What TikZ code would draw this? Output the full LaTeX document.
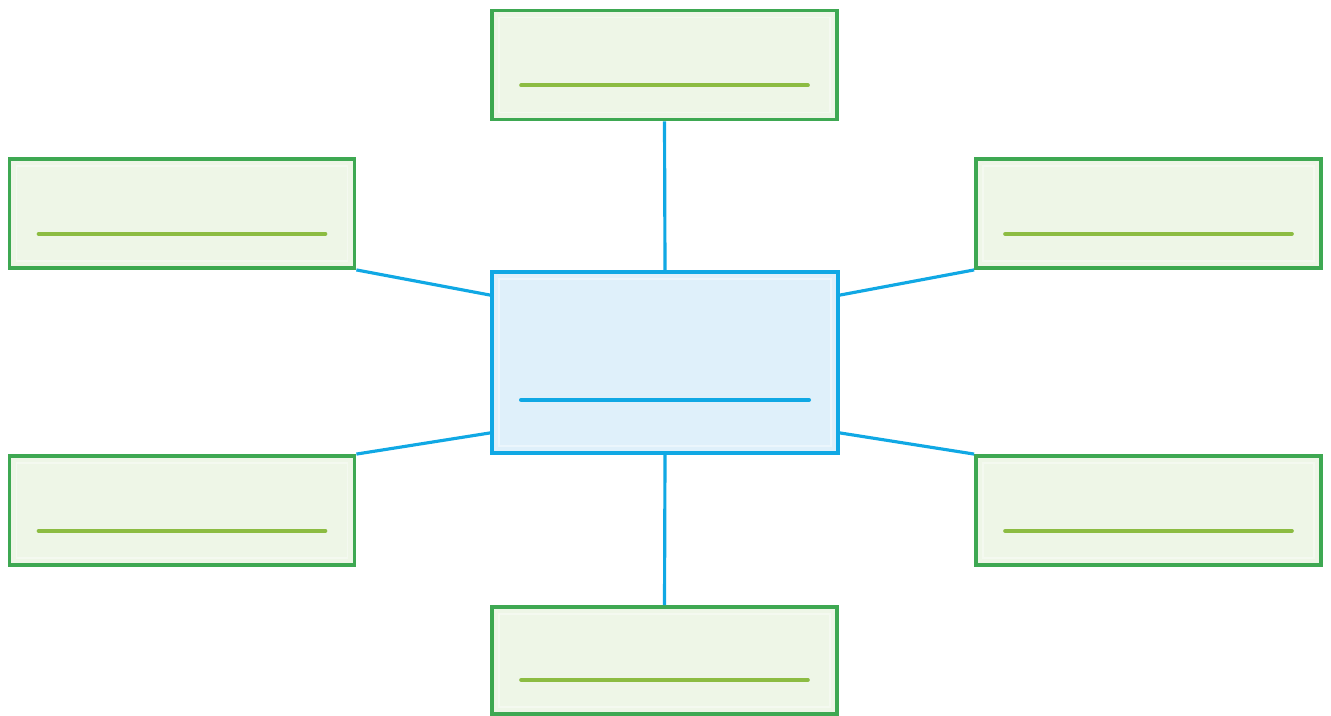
\documentclass[tikz,border=0pt]{standalone}
\usepackage{tikz}
\usetikzlibrary{calc}
\definecolor{boxgreen}{RGB}{62,168,82}
\definecolor{leafgreen}{RGB}{238,246,231}
\definecolor{olive}{RGB}{140,188,66}
\definecolor{hubblue}{RGB}{16,168,228}
\definecolor{hubfill}{RGB}{223,240,250}
\begin{document}
\begin{tikzpicture}[x=0.02cm, y=-0.02cm,
		leaf/.style={draw=boxgreen, fill=leafgreen, line width=2.2pt, minimum width=6.9cm, minimum height=2.18cm, inner sep=0pt},
		hubbox/.style={draw=hubblue, fill=hubfill, line width=2.2pt, minimum width=6.92cm, minimum height=3.62cm, inner sep=0pt},
		spoke/.style={draw=hubblue, line width=1.8pt},
		greenline/.style={draw=olive, line width=2.2pt, line cap=round},
		blueline/.style={draw=hubblue, line width=2.4pt, line cap=round},
		bevel/.style={draw=white, line width=1pt, opacity=0.4}]
		%%%%% START %%%%%
		
		\useasboundingbox (0, 0) rectangle (1331, 716);
		
		\node[hubbox] (hub) at (665, 362.5) {};
		
		\node[leaf] (top) at (664.5, 65) {};
		\node[leaf] (upleft) at (182, 213.5) {};
		\node[leaf] (upright) at (1148.5, 213.5) {};
		\node[leaf] (lowleft) at (182, 510.5) {};
		\node[leaf] (lowright) at (1148.5, 510.5) {};
		\node[leaf, minimum height=2.14cm] (bottom) at (664.5, 660.5) {};
		
		% inner bevel frames
		\foreach \b in {hub, top, upleft, upright, lowleft, lowright, bottom}
			\draw[bevel] ($(\b.north west)+(9,9)$) rectangle ($(\b.south east)+(-9,-9)$);
		
		% answer lines
		\foreach \b in {top, upleft, upright, lowleft, lowright, bottom}
			\draw[greenline] ($(\b.south west)+(31,-36)$) -- ($(\b.south east)+(-31,-36)$);
		\draw[blueline] ($(hub.south west)+(31,-55)$) -- ($(hub.south east)+(-31,-55)$);
		
		% spokes
		\coordinate (hubwn) at ($(hub.north west)+(0,25)$);
		\coordinate (hubws) at ($(hub.south west)+(0,-22)$);
		\coordinate (huben) at ($(hub.north east)+(0,25)$);
		\coordinate (hubes) at ($(hub.south east)+(0,-22)$);
		
		\draw[spoke] (top.south) -- (hub.north);
		\draw[spoke] (hub.south) -- (bottom.north);
		\draw[spoke] (upleft.south east) -- (hubwn);
		\draw[spoke] (lowleft.north east) -- (hubws);
		\draw[spoke] (upright.south west) -- (huben);
		\draw[spoke] (lowright.north west) -- (hubes);
		
		%%%%% END %%%%%
	\end{tikzpicture}
\end{document}
